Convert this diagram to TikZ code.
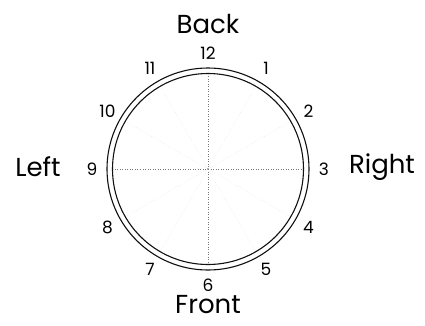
\documentclass[tikz,border=0pt]{standalone}
\usepackage{fontspec}
\setmainfont{Poppins}
\usepackage{tikz}
\usetikzlibrary{positioning,calc}
\definecolor{rim}{HTML}{111111}
\definecolor{guide}{HTML}{777777}
\definecolor{faint}{HTML}{DDDDDD}

\begin{document}
\begin{tikzpicture}[x=1pt, y=1pt,
  every node/.style={font=\fontsize{15}{15}\selectfont, inner sep=1pt},
  side/.style={font=\fontsize{26}{26}\selectfont},
  hour/.style={font=\fontsize{17}{17}\selectfont},
  rimline/.style={draw=rim, line width=1.1pt},
  axisline/.style={draw=guide, dotted, line width=0.5pt},
  spoke/.style={draw=faint, dotted, line width=0.5pt}
]
  \useasboundingbox (-208,-156) rectangle (217,169);
  \coordinate (c) at (0,0);

  % faint spokes every 30 degrees
  \foreach \a in {30,60,120,150,210,240,300,330}
    \draw[spoke] (c) -- (\a:95);
  % main axes
  \draw[axisline] (c) -- (0:95);
  \draw[axisline] (c) -- (90:95);
  \draw[axisline] (c) -- (180:95);
  \draw[axisline] (c) -- (270:95);
  \fill[guide] (c) circle (0.8);

  % double rim
  \draw[rimline] (c) circle (101);
  \draw[rimline] (c) circle (95.5);

  % hour marks
  \foreach \n in {1,...,12}
    \node[hour] (h\n) at ({90-30*\n}:116) {\n};

  % sides
  \node[side] (back)  at (0,145) {Back};
  \node[side] (front) at (0,-136) {Front};
  \node[side] (left)  at (-170,2) {Left};
  \node[side] (right) at (174,2) {Right};
\end{tikzpicture}
\end{document}
